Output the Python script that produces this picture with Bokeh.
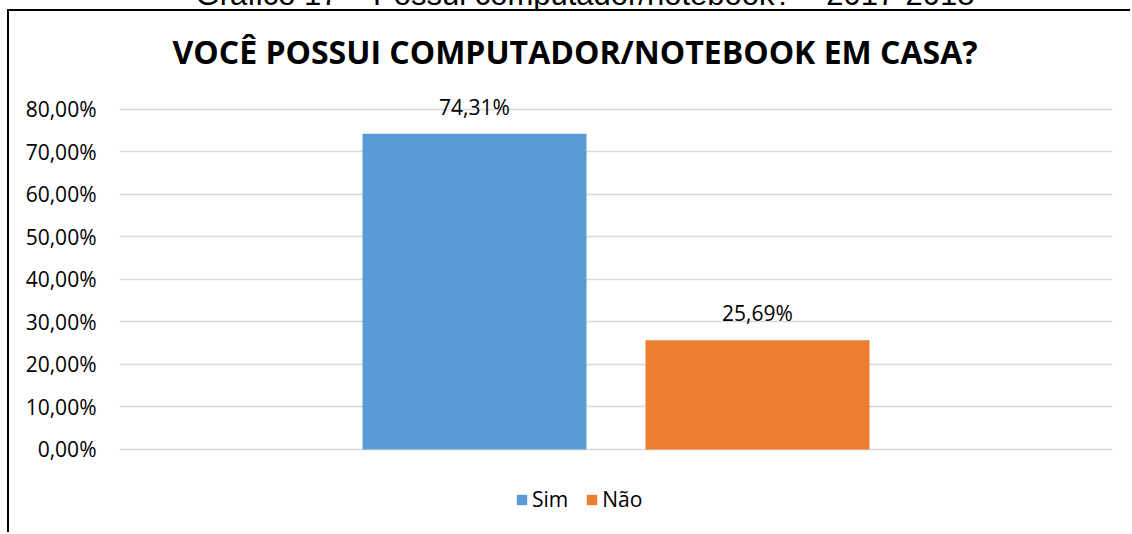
from bokeh.plotting import figure
from bokeh.layouts import column
from bokeh.models import (ColumnDataSource, FactorRange, Range1d, FixedTicker,
                          Legend, LegendItem, Div)
from bokeh.transform import dodge
from bokeh.core.properties import value
from bokeh.embed import file_html
from bokeh.resources import INLINE

# ---- data ----
group = ["Computador/notebook"]
series = ["Sim", "Não"]
sim_values = [74.31]
nao_values = [25.69]
colors = ["#5B9BD5", "#ED7D31"]
y_ticks = [0, 10, 20, 30, 40, 50, 60, 70, 80]
y_tick_labels = ["0,00%", "10,00%", "20,00%", "30,00%", "40,00%",
                 "50,00%", "60,00%", "70,00%", "80,00%"]
title_text = "VOCÊ POSSUI COMPUTADOR/NOTEBOOK EM CASA?"
caption_text = "Gráfico 17 – Possui computador/notebook? – 2017-2018"

FONT = "Open Sans"

def fmt(v):
    return f"{v:.2f}%".replace(".", ",")

src = ColumnDataSource(data=dict(
    grp=group,
    sim=sim_values,
    nao=nao_values,
    sim_lbl=[fmt(v) for v in sim_values],
    nao_lbl=[fmt(v) for v in nao_values],
))

caption = Div(
    text=('<div style="position:absolute;left:-40px;top:-21px;width:1250px;'
          'text-align:center;white-space:nowrap;font-family:\'Liberation Sans\';'
          'font-size:31px;line-height:31px;color:#000;">' + caption_text + '</div>'),
    width=1132, height=9,
    styles={"overflow": "hidden", "position": "relative", "margin": "0"},
)

p = figure(width=1123, height=523, output_backend="svg", toolbar_location=None,
           x_range=FactorRange(factors=group, range_padding=0),
           y_range=Range1d(-20, 85.647),
           min_border_left=110, min_border_right=20,
           min_border_top=74, min_border_bottom=0)

p.styles = {"margin-left": "7px", "border-left": "2px solid #000",
            "border-top": "2px solid #000"}

p.title.text = title_text
p.title.align = "left"
p.title.offset = 53
p.title.text_font = FONT
p.title.text_font_style = "bold"
p.title.text_font_size = "32px"
p.title.text_color = "#000000"
p.title.standoff = 25

off = 0.1425
w = 0.2256
r1 = p.vbar(x=dodge("grp", -off, range=p.x_range), top="sim", width=w,
            source=src, fill_color=colors[0], line_color=None)
r2 = p.vbar(x=dodge("grp", off, range=p.x_range), top="nao", width=w,
            source=src, fill_color=colors[1], line_color=None)

for col, lbl, o in (("sim", "sim_lbl", -off), ("nao", "nao_lbl", off)):
    p.text(x=dodge("grp", o, range=p.x_range), y=col, text=lbl, source=src,
           text_align="center", text_baseline="bottom", y_offset=-13,
           text_font=value(FONT), text_font_size="21px", text_color="#000000")

p.xaxis.visible = False
p.xgrid.grid_line_color = None
p.ygrid.grid_line_color = "#D9D9D9"
p.ygrid.grid_line_width = 1.5
p.ygrid.ticker = FixedTicker(ticks=y_ticks)

ax = p.yaxis[0]
ax.ticker = FixedTicker(ticks=y_ticks)
ax.major_label_overrides = {t: l for t, l in zip(y_ticks, y_tick_labels)}
ax.axis_line_color = None
ax.major_tick_line_color = None
ax.minor_tick_line_color = None
ax.major_label_standoff = 17
ax.major_label_text_font = FONT
ax.major_label_text_font_size = "21px"
ax.major_label_text_color = "#000000"

p.outline_line_color = None

legend = Legend(items=[LegendItem(label=series[0], renderers=[r1]),
                       LegendItem(label=series[1], renderers=[r2])],
                orientation="horizontal", location=(396, 21),
                label_text_font=FONT, label_text_font_size="21px",
                label_text_color="#000000",
                glyph_width=13, glyph_height=13, label_standoff=4, spacing=17,
                border_line_color=None, background_fill_alpha=0)
p.add_layout(legend)

layout = column(caption, p, spacing=0)
open("out.html", "w").write(file_html(layout, INLINE))
